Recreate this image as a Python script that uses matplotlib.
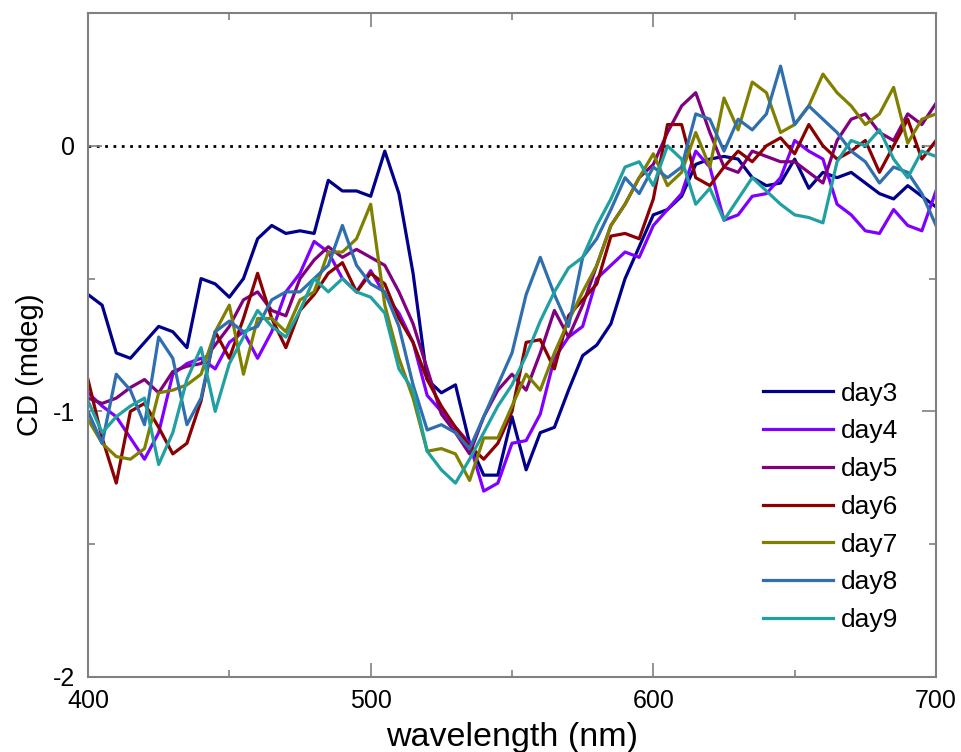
import numpy as np
import matplotlib
matplotlib.use("Agg")
import matplotlib.pyplot as plt
from matplotlib.ticker import MultipleLocator, FixedLocator, FuncFormatter

wavelength = list(range(400, 701, 5))

day3 = [-0.56, -0.60, -0.78, -0.80, -0.74, -0.68, -0.70, -0.76, -0.50, -0.52,
        -0.57, -0.50, -0.35, -0.30, -0.33, -0.32, -0.33, -0.13, -0.17, -0.17,
        -0.19, -0.02, -0.18, -0.48, -0.88, -0.93, -0.90, -1.12, -1.24, -1.24,
        -1.02, -1.22, -1.08, -1.06, -0.92, -0.79, -0.75, -0.67, -0.50, -0.38,
        -0.26, -0.24, -0.19, -0.07, -0.05, -0.04, -0.05, -0.12, -0.15, -0.14,
        -0.05, -0.16, -0.10, -0.12, -0.10, -0.14, -0.18, -0.20, -0.15, -0.19,
        -0.23]
day4 = [-0.93, -0.98, -1.02, -1.10, -1.18, -1.08, -0.86, -0.82, -0.80, -0.84,
        -0.74, -0.70, -0.80, -0.70, -0.55, -0.48, -0.36, -0.40, -0.50, -0.55,
        -0.47, -0.56, -0.63, -0.74, -0.94, -1.00, -1.06, -1.12, -1.30, -1.27,
        -1.12, -1.11, -1.01, -0.80, -0.72, -0.68, -0.50, -0.45, -0.40, -0.42,
        -0.30, -0.24, -0.18, -0.02, -0.08, -0.28, -0.26, -0.19, -0.18, -0.12,
        0.02, -0.02, -0.05, -0.22, -0.26, -0.32, -0.33, -0.24, -0.30, -0.32,
        -0.17]
day5 = [-0.95, -0.97, -0.95, -0.91, -0.88, -0.93, -0.85, -0.83, -0.82, -0.75,
        -0.68, -0.58, -0.55, -0.62, -0.64, -0.50, -0.43, -0.38, -0.42, -0.39,
        -0.42, -0.45, -0.55, -0.67, -0.84, -1.01, -1.08, -1.16, -1.02, -0.92,
        -0.86, -0.92, -0.78, -0.62, -0.72, -0.60, -0.45, -0.30, -0.22, -0.12,
        -0.07, 0.05, 0.15, 0.20, 0.05, -0.08, -0.10, -0.02, -0.04, -0.06,
        -0.06, -0.10, -0.14, 0.02, 0.10, 0.12, 0.05, 0.02, 0.12, 0.08,
        0.16]
day6 = [-0.88, -1.10, -1.27, -1.00, -0.97, -1.06, -1.16, -1.12, -0.96, -0.70,
        -0.80, -0.65, -0.48, -0.65, -0.76, -0.62, -0.56, -0.48, -0.44, -0.55,
        -0.48, -0.52, -0.65, -0.74, -0.88, -0.98, -1.06, -1.13, -1.18, -1.12,
        -1.00, -0.74, -0.73, -0.84, -0.64, -0.58, -0.52, -0.34, -0.33, -0.35,
        -0.20, 0.08, 0.08, -0.12, -0.15, -0.08, -0.02, -0.06, 0.00, 0.03,
        -0.03, 0.08, 0.00, -0.05, -0.02, 0.02, -0.10, 0.00, 0.10, -0.05,
        0.02]
day7 = [-1.03, -1.12, -1.17, -1.18, -1.14, -0.93, -0.92, -0.90, -0.86, -0.70,
        -0.60, -0.86, -0.65, -0.65, -0.70, -0.58, -0.55, -0.40, -0.40, -0.35,
        -0.22, -0.60, -0.80, -0.95, -1.15, -1.14, -1.16, -1.26, -1.10, -1.10,
        -0.98, -0.86, -0.92, -0.78, -0.66, -0.55, -0.45, -0.30, -0.22, -0.12,
        -0.03, -0.15, -0.10, 0.05, -0.08, 0.18, 0.06, 0.24, 0.20, 0.05,
        0.08, 0.15, 0.27, 0.20, 0.15, 0.08, 0.12, 0.22, 0.01, 0.10,
        0.12]
day8 = [-1.00, -1.12, -0.86, -0.92, -1.05, -0.72, -0.80, -1.05, -0.95, -0.70,
        -0.66, -0.70, -0.68, -0.58, -0.55, -0.55, -0.50, -0.45, -0.30, -0.45,
        -0.52, -0.55, -0.68, -0.90, -1.07, -1.05, -1.08, -1.14, -1.02, -0.90,
        -0.78, -0.56, -0.42, -0.56, -0.68, -0.42, -0.35, -0.24, -0.12, -0.18,
        -0.08, -0.12, -0.08, 0.12, 0.10, -0.02, 0.10, 0.06, 0.12, 0.30,
        0.08, 0.15, 0.10, 0.05, -0.02, -0.06, -0.14, -0.08, -0.10, -0.18,
        -0.30]
day9 = [-0.96, -1.08, -1.02, -0.98, -0.95, -1.20, -1.08, -0.88, -0.76, -1.00,
        -0.82, -0.72, -0.62, -0.68, -0.72, -0.62, -0.50, -0.55, -0.50, -0.55,
        -0.57, -0.63, -0.84, -0.92, -1.15, -1.22, -1.27, -1.18, -1.08, -0.98,
        -0.90, -0.79, -0.66, -0.55, -0.46, -0.42, -0.30, -0.20, -0.08, -0.06,
        -0.15, 0.00, -0.05, -0.22, -0.16, -0.28, -0.20, -0.12, -0.17, -0.22,
        -0.26, -0.27, -0.29, -0.06, 0.02, 0.00, 0.06, -0.05, -0.12, -0.02,
        -0.04]

labels = ["day3", "day4", "day5", "day6", "day7", "day8", "day9"]
colors = ["#00008B", "#8000FF", "#800080", "#8B0000", "#808000", "#2F6FB0", "#20A0A0"]
series = [day3, day4, day5, day6, day7, day8, day9]

x_major = [400, 500, 600, 700]
y_major = [-2, -1, 0]

plt.rcParams['font.family'] = ['Liberation Sans', 'DejaVu Sans']

fig = plt.figure(figsize=(9.61, 7.52), dpi=100)
ax = fig.add_axes([88/961, 75/752, 848/961, 664/752])

ax.axhline(0, color='black', linestyle=(0, (1, 2)), linewidth=2, zorder=1)
for y, lab, c in zip(series, labels, colors):
    ax.plot(wavelength, y, color=c, linewidth=2.3, label=lab, zorder=2)

ax.set_xlim(400, 700)
ax.set_ylim(-2, 0.5)
ax.xaxis.set_major_locator(FixedLocator(x_major))
ax.xaxis.set_minor_locator(MultipleLocator(50))
ax.yaxis.set_major_locator(FixedLocator(y_major))
ax.yaxis.set_minor_locator(MultipleLocator(0.5))
ax.yaxis.set_major_formatter(FuncFormatter(lambda v, p: f"{int(v)}"))

for s in ax.spines.values():
    s.set_color('#808080')
    s.set_linewidth(1.5)
ax.tick_params(which='both', direction='in', top=True, right=True, color='#808080',
               labelsize=18, width=1.2)
ax.tick_params(which='major', length=10, pad=9)
ax.tick_params(which='minor', length=5)

ax.set_xlabel("wavelength (nm)", fontsize=24.5, labelpad=6)
ax.set_ylabel("CD (mdeg)", fontsize=21, labelpad=8)
ax.yaxis.set_label_coords(-0.052, 0.47)

leg = ax.legend(loc='lower right', frameon=False, fontsize=19, handlelength=2.65,
                handletextpad=0.3, labelspacing=0.52, bbox_to_anchor=(0.984, 0.032))

fig.savefig("out.png", dpi=100)
